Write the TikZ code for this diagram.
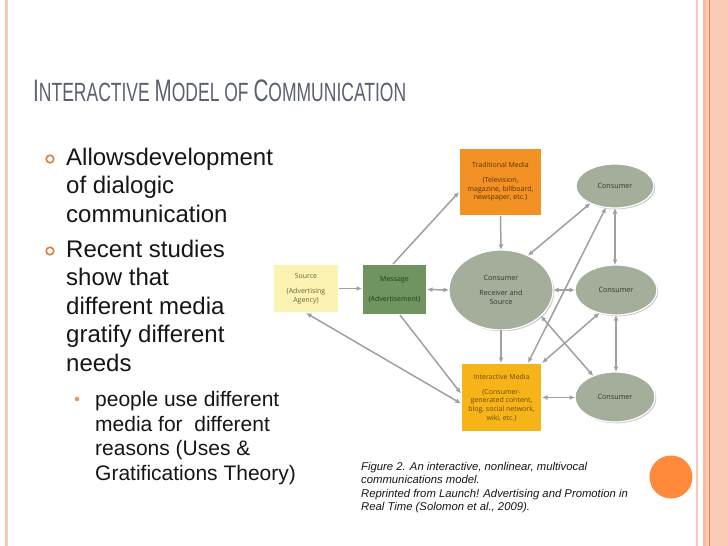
\documentclass[tikz,border=0pt]{standalone}
\usepackage{fontspec}
\usepackage{graphicx}
\setmainfont{Liberation Sans}
\newfontfamily\diagfont{Open Sans}
\usetikzlibrary{shapes.geometric,arrows.meta,shadows}
\definecolor{titlegray}{RGB}{90,98,112}
\definecolor{bodyblack}{RGB}{22,22,22}
\definecolor{bulletorange}{RGB}{224,125,60}
\definecolor{subdot}{RGB}{240,150,100}
\definecolor{edgepink}{RGB}{248,200,185}
\definecolor{bandpink}{RGB}{252,203,182}
\definecolor{banddark}{RGB}{246,187,165}
\definecolor{bandline}{RGB}{232,132,78}
\definecolor{circorange}{RGB}{255,138,60}
\definecolor{srcfill}{RGB}{251,243,178}
\definecolor{msgfill}{RGB}{112,148,96}
\definecolor{tmfill}{RGB}{243,146,36}
\definecolor{imfill}{RGB}{246,180,25}
\definecolor{ellfill}{RGB}{164,174,155}
\definecolor{arrowgray}{RGB}{160,160,160}
\definecolor{srctext}{RGB}{110,95,60}
\definecolor{msgtext}{RGB}{40,55,30}
\definecolor{tmtext}{RGB}{90,50,10}
\definecolor{imtext}{RGB}{110,75,10}
\definecolor{elltext}{RGB}{50,55,45}
\newcommand{\tbig}[1]{{\fontsize{29}{29}\selectfont #1}}
\tikzset{
  mainline/.style={anchor=base west, inner sep=0pt, text=bodyblack, font=\fontsize{24}{24}\selectfont},
  subline/.style={anchor=base west, inner sep=0pt, text=bodyblack, font=\fontsize{21}{21}\selectfont},
  capline/.style={anchor=base west, inner sep=0pt, text=bodyblack, font=\itshape\fontsize{11.3}{11.3}\selectfont},
  nshadow/.style={drop shadow={shadow xshift=1.3pt, shadow yshift=-1.3pt, opacity=0.3, fill=black!70}},
  diagbox/.style={rectangle, draw=white, line width=1.2pt, inner sep=0pt, outer sep=0pt, align=center, font=\diagfont\fontsize{7}{8.6}\selectfont, nshadow},
  diagell/.style={ellipse, draw=white, line width=1.2pt, fill=ellfill, inner sep=0pt, outer sep=0pt, align=center, text=elltext, font=\diagfont\fontsize{7.2}{8.6}\selectfont, nshadow},
  conn/.style={draw=arrowgray, line width=1.5pt, -{Latex[length=5.5pt,width=5pt]}},
  dconn/.style={draw=arrowgray, line width=1.5pt, {Latex[length=5.5pt,width=5pt]}-{Latex[length=5.5pt,width=5pt]}}
}
\begin{document}
\begin{tikzpicture}[x=1pt,y=-1pt]
\useasboundingbox (0,0) rectangle (728,546);
\fill[white] (0,0) rectangle (728,546);
% slide decorations
\draw[edgepink, line width=2.5pt] (6.5,0) -- (6.5,546);
\draw[edgepink, line width=2.4pt] (697.2,0) -- (697.2,546);
\fill[bandpink] (703,0) rectangle (728,546);
\fill[banddark] (703,0) rectangle (706,546);
\draw[bandline, line width=0.9pt] (709.5,0) -- (709.5,546);
\fill[circorange] (671,477) circle (21.5);
% title
\node[anchor=base west, inner sep=0pt, text=titlegray] (title) at (33,101.5)
  {\resizebox{373pt}{21.7pt}{\fontsize{24.6}{24.6}\selectfont\tbig{I}NTERACTIVE \tbig{M}ODEL OF \tbig{C}OMMUNICATION}};
% bullets
\draw[bulletorange, line width=1.6pt] (50,159) circle (3.8);
\draw[bulletorange, line width=1.6pt] (50,251) circle (3.8);
\fill[subdot] (77,399) circle (2.3);
\node[mainline] (b1) at (66,165) {Allowsdevelopment};
\node[mainline] (b2) at (66,193.5) {of dialogic};
\node[mainline] (b3) at (66,222) {communication};
\node[mainline] (b4) at (66,257) {Recent studies};
\node[mainline] (b5) at (66,285.5) {show that};
\node[mainline] (b6) at (66,314) {different media};
\node[mainline] (b7) at (66,342.5) {gratify different};
\node[mainline] (b8) at (66,371) {needs};
\node[subline] (s1) at (95,406.5) {people use different};
\node[subline] (s2) at (95,431) {media for~ different};
\node[subline] (s3) at (95,455.5) {reasons (Uses \&};
\node[subline] (s4) at (95,480) {Gratifications Theory)};
% caption
\node[capline] (c1l) at (361,470) {Figure 2. An interactive, nonlinear, multivocal};
\node[capline] (c2l) at (361,483.5) {communications model.};
\node[capline] (c3l) at (361,497) {Reprinted from Launch! Advertising and Promotion in};
\node[capline] (c4l) at (361,510.5) {Real Time (Solomon et al., 2009).};
% diagram nodes
\node[diagbox, fill=srcfill, text=srctext, minimum width=66pt, minimum height=49pt] (src) at (306,288.5)
  {Source\\[7pt](Advertising\\Agency)};
\node[diagbox, fill=msgfill, text=msgtext, minimum width=65pt, minimum height=51pt] (msg) at (394.5,289.5)
  {Message\\[11pt](Advertisement)};
\node[diagbox, fill=tmfill, text=tmtext, minimum width=83pt, minimum height=68pt] (tm) at (500.5,182)
  {Traditional Media\\[6.5pt](Television,\\magazine, billboard,\\newspaper, etc.)};
\node[diagbox, fill=imfill, text=imtext, minimum width=81pt, minimum height=69pt] (im) at (501.5,397.5)
  {Interactive Media\\[6.5pt](Consumer-\\generated content,\\blog, social network,\\wiki, etc.)};
\node[diagell, minimum width=104pt, minimum height=80pt] (cc) at (501,290)
  {Consumer\\[6pt]Receiver and\\Source};
\node[diagell, minimum width=78pt, minimum height=44pt] (ct) at (615,186) {Consumer};
\node[diagell, minimum width=82pt, minimum height=50pt] (cm) at (616,290) {Consumer};
\node[diagell, minimum width=80pt, minimum height=50pt] (cb) at (615,397) {Consumer};
% connectors
\draw[conn] (src.east) -- (src.east -| msg.west);
\draw[dconn] (msg.east) -- (cc.west);
\draw[conn] ([xshift=-1.5pt]msg.north) -- ([yshift=-10pt]tm.west);
\draw[conn] ([xshift=5.5pt]msg.south) -- ([yshift=4pt]im.west);
\draw[dconn] ([yshift=-6pt]im.west) -- (src.south);
\draw[conn] (tm.south) -- (cc.north);
\draw[conn] (cc.south) -- (cc.south |- im.north);
\draw[dconn] (cc.52) -- (ct.215);
\draw[dconn] (cc.east) -- (cm.west);
\draw[dconn] (ct.south) -- (ct.south |- cm.north);
\draw[dconn] (cm.south) -- (cm.south |- cb.north);
\draw[dconn] (im.east) -- (im.east -| cb.west);
\draw[dconn] (cc.-33) -- (cb.136);
\draw[dconn] (im.north east) -- (cm.234);
\draw[dconn] ([xshift=26.5pt]im.north) -- (ct.247);
\end{tikzpicture}
\end{document}
